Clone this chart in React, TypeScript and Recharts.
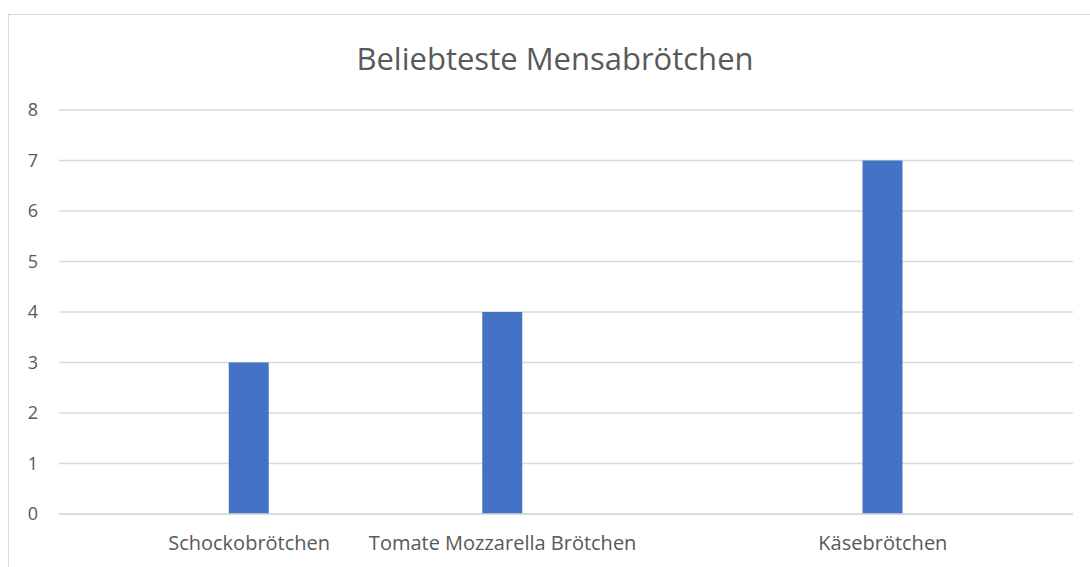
import { BarChart, Bar, XAxis, YAxis, CartesianGrid } from "recharts";

// Excel-style axis: 8 slots, only three carry a bar
const categories = [
  "",
  "Schockobrötchen",
  "",
  "Tomate Mozzarella Brötchen",
  "",
  "",
  "Käsebrötchen",
  "",
];
const votes: (number | null)[] = [null, 3, null, 4, null, null, 7, null];
const yTicks = [0, 1, 2, 3, 4, 5, 6, 7, 8];

const data = categories.map((name, i) => ({ name, votes: votes[i] }));

const font = "'Open Sans', Lato, sans-serif";

export default function App() {
  return (
    <div
      style={{
        position: "absolute",
        left: 0,
        top: 0,
        width: 1090,
        height: 567,
        overflow: "hidden",
        background: "#fff",
        fontFamily: font,
      }}
    >
      <div
        style={{
          position: "absolute",
          left: 8,
          top: 14,
          width: 1200,
          height: 700,
          border: "1px solid #d9d9d9",
        }}
      />
      <div
        style={{
          position: "absolute",
          left: 0,
          width: 1110,
          top: 37,
          textAlign: "center",
          fontSize: 31,
          color: "#595959",
        }}
      >
        Beliebteste Mensabrötchen
      </div>
      <div style={{ position: "absolute", left: 0, top: 0 }}>
        <BarChart
          width={1090}
          height={567}
          data={data}
          margin={{ top: 110, right: 17, bottom: 0, left: 0 }}
        >
          <CartesianGrid vertical={false} stroke="#d9d9d9" strokeWidth={1.5} />
          <XAxis
            dataKey="name"
            interval={0}
            height={53}
            axisLine={{ stroke: "#d9d9d9", strokeWidth: 1.5 }}
            tickLine={false}
            tickSize={0}
            tickMargin={22}
            tick={{ fill: "#595959", fontSize: 20, fontFamily: font }}
          />
          <YAxis
            domain={[0, 8]}
            ticks={yTicks}
            width={59}
            axisLine={false}
            tickLine={false}
            tickSize={0}
            tickMargin={21}
            tick={{ fill: "#595959", fontSize: 18, fontFamily: font }}
          />
          <Bar dataKey="votes" fill="#4472c4" barSize={40} isAnimationActive={false} />
        </BarChart>
      </div>
    </div>
  );
}
